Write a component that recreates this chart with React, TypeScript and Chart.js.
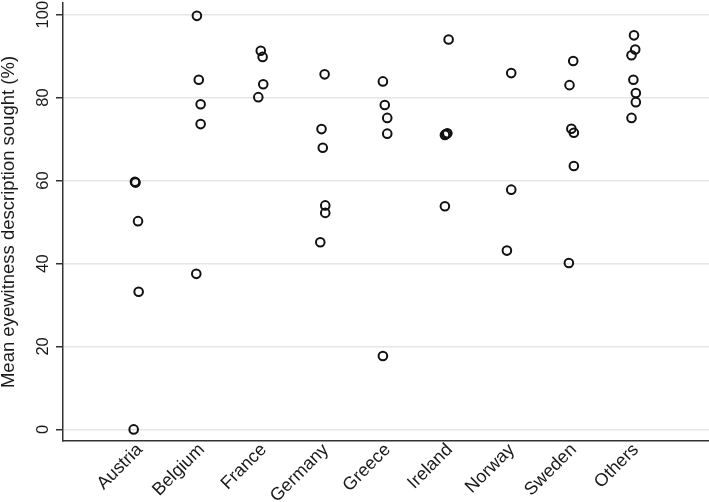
import React, { useEffect, useRef } from "react";
import { Chart, registerables } from "chart.js";

Chart.register(...registerables);

const categories = ["Austria", "Belgium", "France", "Germany", "Greece", "Ireland", "Norway", "Sweden", "Others"];

const austriaValues = [59.7, 59.5, 50.2, 33.2, 0];
const austriaJitter = [-0.03, -0.02, 0.02, 0.03, -0.05];
const belgiumValues = [99.7, 84.3, 78.4, 73.6, 37.5];
const belgiumJitter = [-0.03, 0.0, 0.03, 0.03, -0.04];
const franceValues = [91.3, 89.8, 83.2, 80.1];
const franceJitter = [0.0, 0.03, 0.04, -0.04];
const germanyValues = [85.6, 72.4, 67.9, 54.0, 52.2, 45.1];
const germanyJitter = [0.03, -0.02, 0.0, 0.04, 0.04, -0.04];
const greeceValues = [83.9, 78.2, 75.1, 71.3, 17.7];
const greeceJitter = [-0.03, 0.0, 0.04, 0.04, -0.03];
const irelandValues = [94.0, 71.0, 71.2, 71.4, 53.8];
const irelandJitter = [0.03, -0.03, -0.01, 0.01, -0.03];
const norwayValues = [85.9, 57.8, 43.1];
const norwayJitter = [0.04, 0.04, -0.03];
const swedenValues = [88.8, 83.0, 72.5, 71.5, 63.5, 40.1];
const swedenJitter = [0.04, -0.02, 0.01, 0.05, 0.05, -0.03];
const othersValues = [95.0, 91.6, 90.2, 84.3, 81.1, 78.9, 75.1];
const othersJitter = [0.02, 0.04, -0.02, 0.01, 0.05, 0.05, -0.02];

const yTicks = [0, 20, 40, 60, 80, 100];
const yTitle = "Mean eyewitness description sought (%)";

const groups = [
  [austriaValues, austriaJitter],
  [belgiumValues, belgiumJitter],
  [franceValues, franceJitter],
  [germanyValues, germanyJitter],
  [greeceValues, greeceJitter],
  [irelandValues, irelandJitter],
  [norwayValues, norwayJitter],
  [swedenValues, swedenJitter],
  [othersValues, othersJitter],
];

const FONT = "'Liberation Sans', Arial, Helvetica, sans-serif";
const TEXT = "#1a1a1a";

const zeroPadding = (scale: any) => {
  scale.paddingTop = 0;
  scale.paddingBottom = 0;
  scale.paddingLeft = 0;
  scale.paddingRight = 0;
};

const categoryLabels = {
  id: "categoryLabels",
  afterDraw(chart: any) {
    const ctx = chart.ctx;
    const xs = chart.scales.x;
    const bottom = chart.chartArea.bottom;
    ctx.save();
    ctx.fillStyle = TEXT;
    ctx.font = `18px ${FONT}`;
    ctx.textAlign = "right";
    ctx.textBaseline = "middle";
    categories.forEach((name, i) => {
      const px = xs.getPixelForValue(i + 1);
      ctx.save();
      ctx.translate(px + 3, bottom + 6);
      ctx.rotate(-Math.PI / 4);
      ctx.fillText(name, 0, 0);
      ctx.restore();
    });
    ctx.restore();
  },
};

export default function App() {
  const ref = useRef<HTMLCanvasElement | null>(null);

  useEffect(() => {
    document.body.style.margin = "0";
    const canvas = ref.current;
    if (!canvas) return;
    const points: { x: number; y: number }[] = [];
    groups.forEach(([vals, jit], i) => {
      vals.forEach((v, k) => points.push({ x: i + 1 + jit[k], y: v }));
    });

    const chart = new Chart(canvas, {
      type: "scatter",
      data: {
        datasets: [
          {
            data: points,
            pointRadius: 4.3,
            pointBorderWidth: 2,
            pointBorderColor: "#111",
            pointBackgroundColor: "rgba(0,0,0,0)",
            pointStyle: "circle",
            clip: false,
          },
        ],
      },
      plugins: [categoryLabels],
      options: {
        animation: false,
        responsive: false,
        devicePixelRatio: 1,
        layout: { autoPadding: false, padding: { top: 3, left: 0, right: 0, bottom: 0 } },
        plugins: { legend: { display: false }, tooltip: { enabled: false } },
        scales: {
          x: {
            type: "linear",
            min: -0.19,
            max: 10.23,
            afterBuildTicks: (scale: any) => {
              scale.ticks = categories.map((_, i) => ({ value: i + 1 }));
            },
            afterFit: (scale: any) => {
              scale.height = 61;
              zeroPadding(scale);
            },
            grid: { display: false },
            border: { display: true, color: "#333", width: 1.5 },
            ticks: { display: false },
          },
          y: {
            type: "linear",
            min: -2.8,
            max: 102.8,
            afterBuildTicks: (scale: any) => {
              scale.ticks = yTicks.map((v) => ({ value: v }));
            },
            afterFit: (scale: any) => {
              scale.width = 63;
              zeroPadding(scale);
            },
            grid: {
              color: "#e6e6e6",
              lineWidth: 1.5,
              tickColor: "#333",
              tickLength: 7,
              drawTicks: true,
            },
            border: { display: true, color: "#333", width: 1.5 },
            ticks: {
              minRotation: 90,
              maxRotation: 90,
              crossAlign: "center",
              padding: -1,
              color: TEXT,
              font: { family: FONT, size: 16.5 },
            },
            title: {
              display: true,
              text: yTitle,
              color: TEXT,
              padding: { top: 0, bottom: 0 },
              font: { family: FONT, size: 18.5, lineHeight: 1 },
            },
          },
        },
      },
    });
    return () => chart.destroy();
  }, []);

  return <canvas ref={ref} width={709} height={502} style={{ display: "block" }} />;
}
